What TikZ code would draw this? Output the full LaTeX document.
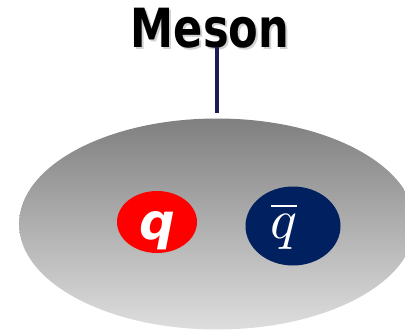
\documentclass[tikz,border=0pt]{standalone}
\usepackage{unicode-math}
\newfontfamily\titlefont{DejaVu Sans}
\usetikzlibrary{shapes.geometric}
\definecolor{quarkred}{RGB}{255,0,0}
\definecolor{antinavy}{RGB}{0,32,96}
\definecolor{stemnavy}{RGB}{28,28,80}
\begin{document}
\begin{tikzpicture}[x=1pt, y=-1pt,
		blob/.style={ellipse, inner sep=0pt},
		quarktext/.style={text=white, font=\titlefont\bfseries\itshape\fontsize{50}{50}\selectfont}]
	\useasboundingbox (0,0) rectangle (405,330);

	% title with soft shadow
	\node[anchor=base, text=black!35, opacity=0.5, xscale=0.8, font=\titlefont\bfseries\fontsize{54}{54}\selectfont] at (212,49) {Meson};
	\node (title) [anchor=base, xscale=0.8, font=\titlefont\bfseries\fontsize{54}{54}\selectfont] at (210,47) {Meson};

	% the hadron
	\node (hadron) [blob, minimum width=396pt, minimum height=211pt, top color=black!50, bottom color=black!13] at (217,224) {};
	\draw[stemnavy, line width=4pt, shorten >=5pt] (title.base -| hadron.north) -- (hadron.north);

	% quark and antiquark
	\node (quark) [blob, fill=quarkred, minimum width=80pt, minimum height=62pt, quarktext] at (157,222) {\raisebox{-17pt}[0pt][0pt]{q}};
	\node (antiquark) [blob, fill=antinavy, minimum width=95pt, minimum height=79pt, text=white, font=\fontsize{56}{56}\selectfont] at (293,226) {$\overline{q}$\kern18pt};
\end{tikzpicture}
\end{document}
